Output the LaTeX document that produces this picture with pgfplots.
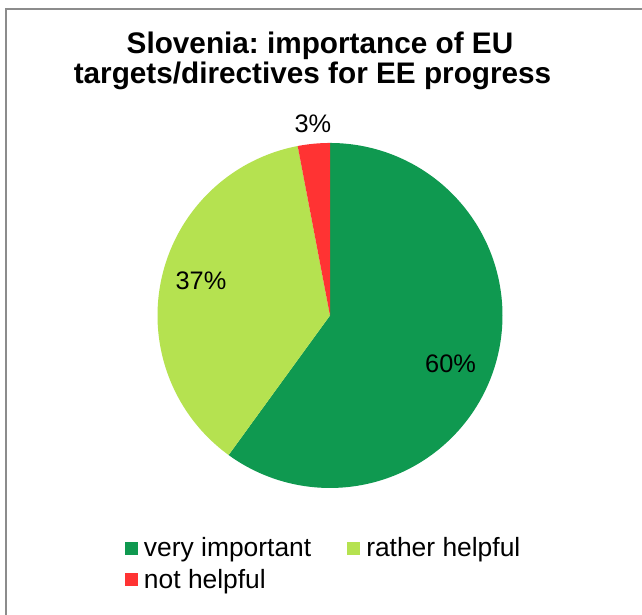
\documentclass[border=0pt]{standalone}
\usepackage{pgfplots}
\pgfplotsset{compat=1.18}
\usepackage{fontspec}
\setmainfont{Liberation Sans}
\frenchspacing
\definecolor{vi}{HTML}{0F9950}
\definecolor{rh}{HTML}{B5E250}
\definecolor{nh}{HTML}{FF3333}
\definecolor{frame}{HTML}{8C8C8C}
\begin{document}
\begin{tikzpicture}
\useasboundingbox (0pt,0pt) rectangle (481.5pt,-460.5pt);
\fill[white] (0pt,0pt) rectangle (481.5pt,-460.5pt);
\draw[frame, line width=1.5pt] (4.5pt,-470pt) -- (4.5pt,-6.75pt) -- (490pt,-6.75pt);
\node[anchor=base, font=\fontsize{22.3}{26}\selectfont\bfseries] at (240pt,-40pt) {Slovenia: importance of EU};
\node[anchor=base, font=\fontsize{22.3}{26}\selectfont\bfseries] at (234.4pt,-62.5pt) {targets/directives for EE progress};
\begin{axis}[
  at={(247.5pt,-236.6pt)}, anchor=center,
  width=258.75pt, height=258.75pt, scale only axis,
  xmin=-1, xmax=1, ymin=-1, ymax=1,
  hide axis, clip=false,
  legend columns=2,
  legend image code/.code={\path[#1] (0pt,-4.875pt) rectangle (9.75pt,4.875pt);},
  legend style={draw=none, fill=none, inner sep=0pt,
    font=\fontsize{19.8}{22}\selectfont,
    at={(axis cs:-1.19,-1.27)}, anchor=north west,
    /tikz/every even column/.append style={column sep=25pt},
    row sep=4pt,
    nodes={inner sep=2pt}},
  legend cell align=left,
]
% values: very important 60, rather helpful 37, not helpful 3 (percent), clockwise from 12 o'clock
\addplot[draw=none, fill=vi, domain=90:{90-3.6*60}, samples=150] ({cos(x)},{sin(x)}) -- (axis cs:0,0) -- cycle;
\addlegendentry{\hspace{2.5pt}very important}
\addplot[draw=none, fill=rh, domain={90-3.6*60}:{90-3.6*97}, samples=100] ({cos(x)},{sin(x)}) -- (axis cs:0,0) -- cycle;
\addlegendentry{\hspace{2.5pt}rather helpful}
\addplot[draw=none, fill=nh, domain={90-3.6*97}:{90-3.6*100}, samples=20] ({cos(x)},{sin(x)}) -- (axis cs:0,0) -- cycle;
\addlegendentry{\hspace{2.5pt}not helpful}
\node[font=\fontsize{19}{22}\selectfont] at (axis cs:0.699,-0.281) {60\%};
\node[font=\fontsize{19}{22}\selectfont] at (axis cs:-0.748,0.200) {37\%};
\node[font=\fontsize{19}{22}\selectfont] at (axis cs:-0.099,1.11) {3\%};
\end{axis}
\end{tikzpicture}
\end{document}
